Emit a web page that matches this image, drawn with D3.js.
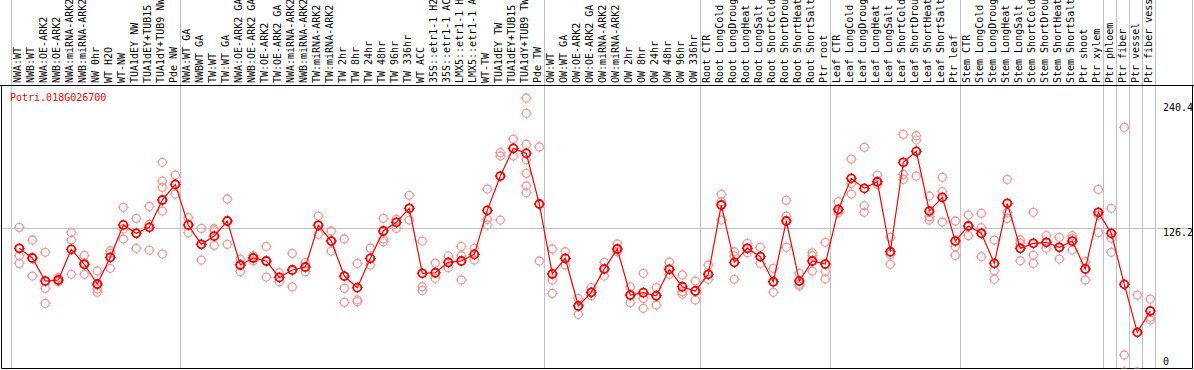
<!DOCTYPE html>
<html>
<head>
<meta charset="utf-8">
<script src="https://cdn.jsdelivr.net/npm/d3@7"></script>
<style>
body { margin: 0; background: #fff; }
svg { display: block; font-family: "DejaVu Sans Mono", monospace; }
</style>
</head>
<body>
<svg id="chart"></svg>
<script>
const geneId = "Potri.018G026700";

const samples = [
    "NWA:WT", "NWB:WT", "NWA:OE-ARK2", "NWB:OE-ARK2", "NWA:miRNA-ARK2", "NWB:miRNA-ARK2",
    "NW 0hr", "WT H2O", "WT-NW", "TUA1dEY NW", "TUA1dEY+TUB15 NW", "TUA1dY+TUB9 NW", "Pde NW",
    "NWA:WT GA", "NWBWT GA", "TW:WT", "TW:WT GA", "NWA:OE-ARK2 GA", "NWB:OE-ARK2 GA",
    "TW:OE-ARK2", "TW:OE-ARK2 GA", "NWA:miRNA-ARK2 GA", "NWB:miRNA-ARK2 GA", "TW:miRNA-ARK2",
    "TW:miRNA-ARK2 GA", "TW 2hr", "TW 8hr", "TW 24hr", "TW 48hr", "TW 96hr", "TW 336hr", "WT ACC",
    "35S::etr1-1 H2O", "35S::etr1-1 ACC", "LMX5::etr1-1 H2O", "LMX5::etr1-1 ACC", "WT-TW",
    "TUA1dEY TW", "TUA1dEY+TUB15 TW", "TUA1dY+TUB9 TW", "Pde TW",
    "OW:WT", "OW:WT GA", "OW:OE-ARK2", "OW:OE-ARK2 GA", "OW:miRNA-ARK2", "OW:miRNA-ARK2 GA",
    "OW 2hr", "OW 8hr", "OW 24hr", "OW 48hr", "OW 96hr", "OW 336hr",
    "Root CTR", "Root LongCold", "Root LongDrought", "Root LongHeat", "Root LongSalt",
    "Root ShortCold", "Root ShortDrought", "Root ShortHeat", "Root ShortSalt", "Ptr root",
    "Leaf CTR", "Leaf LongCold", "Leaf LongDrought", "Leaf LongHeat", "Leaf LongSalt",
    "Leaf ShortCold", "Leaf ShortDrought", "Leaf ShortHeat", "Leaf ShortSalt", "Ptr leaf",
    "Stem CTR", "Stem LongCold", "Stem LongDrought", "Stem LongHeat", "Stem LongSalt",
    "Stem ShortCold", "Stem ShortDrought", "Stem ShortHeat", "Stem ShortSalt", "Ptr shoot",
    "Ptr xylem", "Ptr phloem", "Ptr fiber", "Ptr vessel", "Ptr fiber vessel"
];

const means = [
    108.5, 100, 79.8, 80.7, 107.6, 94.5, 77.2, 100.6, 129, 121.7, 126.9, 150.9, 164.6,
    129, 112, 119.3, 132.5, 93.9, 100, 97.4, 83, 89.5, 92.1, 128.7, 114.9, 84.2, 74, 99.7,
    123.7, 131.3, 143.6, 86.6, 87.1, 96.2, 97.4, 103.2, 141.8, 171.9, 196.2, 191.8, 147.4,
    86, 99.7, 57.9, 69.9, 90.4, 107.9, 67.5, 69.6, 66.9, 90.1, 74.8, 71.1,
    85.7, 146.5, 96.2, 108.5, 101.2, 79.2, 132.5, 79.8, 97.4, 94.7,
    142.7, 169.9, 161.1, 166.9, 105.5, 184, 193.6, 141.2, 153.2, 114.9,
    128.1, 121.7, 95.3, 148, 108.5, 112.9, 113.8, 109.4, 114.9, 90.4,
    140.1, 121.7, 76.9, 34.8, 53.5
];

const replicates = [
    [126.9, 102, 95.3], [115.8, 100, 84.2], [105, 73.4, 60.2], [82.7, 80.7, 79.2],
    [122.2, 115.8, 85.7], [102.3, 95.5, 85.7], [88.6, 76.3, 72.8, 69.9], [106.4, 104.1, 91],
    [144.5, 125.4, 116.7], [134.8, 121.7, 108.5], [145.3, 129.6, 107],
    [184, 167.5, 162, 141.2, 103.5], [172.8, 164.6, 156.1],
    [135.4, 129, 122.2], [126, 112, 98.2], [125.7, 124, 111.1], [151.8, 132.5, 112],
    [99.1, 93.9, 88], [102, 100, 97.6], [110.2, 97.4, 83.3], [87.1, 83, 79.2],
    [104.1, 89.5, 74.6], [95.9, 92.1, 88], [136.8, 128.7, 120.8], [123.7, 114.9, 106.1],
    [116.7, 73.4, 61.1], [95.3, 63.2, 61.7], [108.8, 99.7, 93.9], [134.8, 116.7, 114.3],
    [133.9, 131.3, 126], [155, 143.6, 133.3], [114.9, 74.8, 71.6], [95.6, 87.1, 82.2],
    [101.8, 96.2, 91.5], [110.2, 102, 80.7], [108.5, 103.2, 98.2], [160.5, 133.9, 129],
    [192.4, 189.5, 133.3], [204.4, 196.2, 189.5],
    [240.4, 226.9, 199.7, 186.2, 174.3, 163.2, 157.3], [197.4, 97.4],
    [107.9, 80.7, 69], [105.5, 99.7, 93.9], [64.6, 57.9, 50.6], [74, 69.9, 66.9],
    [96.2, 90.4, 84.2], [112.3, 107.9, 105.5], [74.6, 67.5, 60.8], [86.6, 64.6, 55.9],
    [74, 66.9, 58.8], [96.5, 90.1, 85.7], [85.1, 70.4, 68.2], [79.8, 71.1, 63.2],
    [93.9, 85.7, 81.3], [155.9, 149.4, 133.3], [105.5, 101.8, 81.3], [112.9, 108.5, 104.6],
    [109.4, 101.2, 95.3], [91, 79.2, 69.9], [150.6, 136.8, 109.4], [86.6, 76.9, 75.4],
    [104.6, 102, 88.6], [113.8, 88, 81.6],
    [149.4, 141.2, 139.7], [186.8, 165.5, 156.1], [197.1, 145.9, 140.1], [172.8, 164.6, 166.9],
    [118.2, 103.2, 94.5], [208.5, 173.4, 169], [207.3, 203.5, 171.9], [154.4, 136.2, 133.3],
    [170.8, 158.2, 131.6], [132.5, 110, 102.3],
    [137.7, 128.1, 119.6], [139.2, 126.6, 101.2], [115.8, 88.9, 81.3], [169, 140, 134.8],
    [115.8, 112.9, 97.6], [140.1, 102.6, 95.3], [119.6, 113.8, 108.5], [118.2, 109.4, 99.1],
    [119.6, 117.3, 107], [96.8, 90.4, 80.7],
    [160.2, 137.7, 122.5], [143.6, 117.3, 105], [214.6, 14.9, 0], [67.5, 0], [64, 48, 45.6]
];

// group boundaries (index of first sample after a separator)
const groupStarts = [0, 13, 41, 53, 63, 73, 84, 85, 86, 87, 88];
const yTicks = [0, 126.2, 240.4];

const W = 1194, H = 370;
const plot = { left: 1.5, right: 1192.5, top: 85.5, bottom: 368.5 };

const svg = d3.select('#chart').attr('width', W).attr('height', H);

const x = d3.scaleLinear().domain([0, samples.length - 1]).range([19.3, 1150.3]);
const y = d3.scaleLinear().domain([0, 240.4]).range([372, 98]);

const crisp = v => Math.round(v) + 0.5;

svg.append('defs').append('clipPath').attr('id', 'clip')
    .append('rect')
    .attr('x', plot.left).attr('y', plot.top)
    .attr('width', plot.right - plot.left).attr('height', plot.bottom - plot.top);

// separators
svg.selectAll('.sep')
    .data(groupStarts)
    .enter().append('line')
    .attr('x1', d => crisp(x(d) - 8.5)).attr('x2', d => crisp(x(d) - 8.5))
    .attr('y1', 0).attr('y2', plot.bottom)
    .attr('stroke', '#c0c0c0').attr('stroke-width', 1);

// right edge of the label area
svg.append('line')
    .attr('x1', plot.right).attr('x2', plot.right)
    .attr('y1', 0).attr('y2', plot.top)
    .attr('stroke', '#c0c0c0').attr('stroke-width', 1);

// reference line
svg.append('line')
    .attr('x1', plot.left).attr('x2', plot.right)
    .attr('y1', crisp(y(126.2))).attr('y2', crisp(y(126.2)))
    .attr('stroke', '#c0c0c0').attr('stroke-width', 1);

// frame
svg.append('line')
    .attr('x1', 0).attr('x2', W).attr('y1', plot.top).attr('y2', plot.top)
    .attr('stroke', '#000').attr('stroke-width', 1);
svg.append('path')
    .attr('d', `M${plot.left},${plot.top}V${plot.bottom}H${plot.right}V${plot.top}`)
    .attr('fill', 'none').attr('stroke', '#000').attr('stroke-width', 1);

// sample labels
svg.selectAll('.lab')
    .data(samples)
    .enter().append('text')
    .attr('transform', (d, i) => `translate(${x(i) + 2},83) rotate(-90)`)
    .attr('font-size', 10)
    .attr('fill', '#000')
    .text(d => d);

// y labels
svg.selectAll('.ylab')
    .data(yTicks)
    .enter().append('text')
    .attr('x', 1163)
    .attr('y', d => Math.max(111, Math.min(365, y(d) + 8)))
    .attr('font-size', 10)
    .text(d => d);

// title
svg.append('text')
    .attr('x', 10).attr('y', 101)
    .attr('font-size', 10)
    .attr('fill', '#ff0000')
    .text(geneId);

const g = svg.append('g').attr('clip-path', 'url(#clip)');

function marker(sel, color, tick, sw) {
    sel.append('circle')
        .attr('r', 4)
        .attr('fill', 'none')
        .attr('stroke', color)
        .attr('stroke-width', sw);
    sel.append('path')
        .attr('d', 'M0,-4V-5.5M0,4V5.5M-4,0H-5.5M4,0H5.5')
        .attr('stroke', tick)
        .attr('stroke-width', 1);
}

// replicates
const reps = [];
replicates.forEach((vals, i) => vals.forEach(v => reps.push({ i: i, v: v })));
g.selectAll('.rep')
    .data(reps)
    .enter().append('g')
    .attr('transform', d => `translate(${x(d.i)},${y(d.v)})`)
    .call(marker, '#f09a9a', '#f09a9a', 1.3);

// mean line
g.append('path')
    .datum(means)
    .attr('fill', 'none')
    .attr('stroke', '#ff0000')
    .attr('stroke-width', 1.2)
    .attr('d', d3.line().x((d, i) => x(i)).y(d => y(d)));

g.selectAll('.mean')
    .data(means)
    .enter().append('g')
    .attr('transform', (d, i) => `translate(${x(i)},${y(d)})`)
    .call(marker, '#ff0000', '#cc0000', 1.8);
</script>
</body>
</html>
